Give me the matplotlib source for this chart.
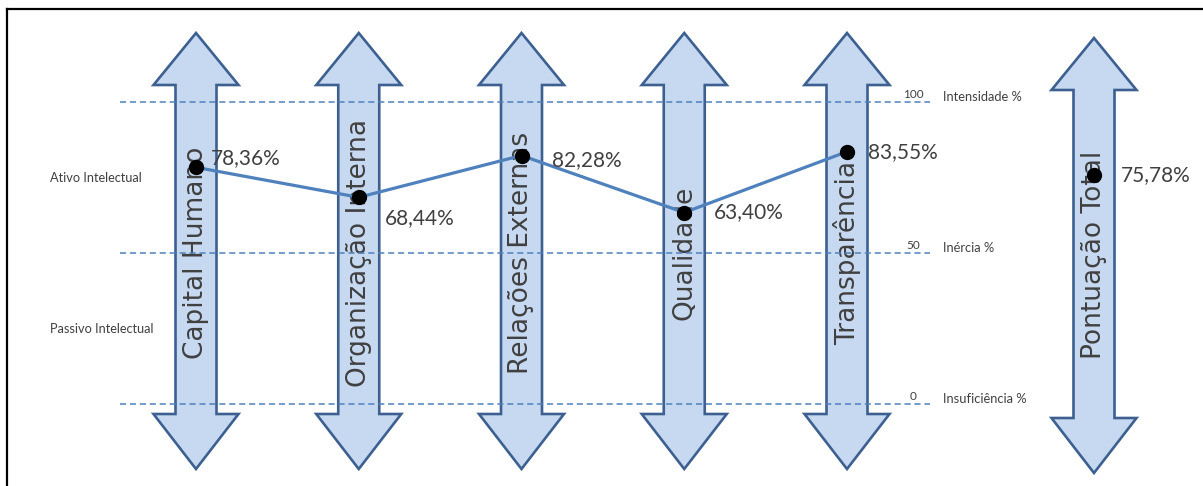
import matplotlib
matplotlib.use("Agg")
import matplotlib.pyplot as plt
from matplotlib.patches import Polygon
from matplotlib.lines import Line2D

# ---- data ----
categories = ["Capital Humano", "Organização Interna", "Relações Externas", "Qualidade", "Transparência"]
scores = [78.36, 68.44, 82.28, 63.40, 83.55]
total_name = "Pontuação Total"
total_score = 75.78
levels = [100, 50, 0]
level_names = ["Intensidade %", "Inércia %", "Insuficiência %"]
zones = ["Ativo Intelectual", "Passivo Intelectual"]
zone_levels = [75, 25]

# ---- layout helpers (pixel geometry of the figure) ----
W, H = 1203, 486
X0_PX, DX_PX = 196.0, 162.75      # category 0 centre, category spacing
Y0_PX, Y100_PX = 404.0, 102.0     # pixel rows of 0 % and 100 %
PX_PER_V = (Y0_PX - Y100_PX) / 100.0

def px2x(px):
    return (px - X0_PX) / DX_PX

def py2v(py):
    return (Y0_PX - py) / PX_PER_V

def fmt(v):
    return f"{v:.2f}".replace(".", ",") + "%"

fig = plt.figure(figsize=(W / 100, H / 100), dpi=100)
ax = fig.add_axes([0, 0, 1, 1])
ax.set_xlim(px2x(0), px2x(W))
ax.set_ylim(py2v(H), py2v(0))
ax.axis("off")

fill_c = "#C6D9F1"
edge_c = "#3D6090"
blue = "#4F81BD"
txt_c = "#404040"

shaft_hw = 20.5 / DX_PX
head_hw = 42.5 / DX_PX

def double_arrow(xc, top_tip, top_base, bot_base, bot_tip):
    pts = [
        (xc, top_tip),
        (xc + head_hw, top_base),
        (xc + shaft_hw, top_base),
        (xc + shaft_hw, bot_base),
        (xc + head_hw, bot_base),
        (xc, bot_tip),
        (xc - head_hw, bot_base),
        (xc - shaft_hw, bot_base),
        (xc - shaft_hw, top_base),
        (xc - head_hw, top_base),
    ]
    ax.add_patch(Polygon(pts, closed=True, facecolor=fill_c, edgecolor=edge_c,
                         linewidth=1.9, joinstyle="miter", zorder=1))

xs = list(range(len(categories)))
x_total = px2x(1094)

for x, name in zip(xs, categories):
    double_arrow(x, py2v(33), py2v(85), py2v(414), py2v(469))
    ax.text(x, 50, name, rotation=90, ha="center", va="center",
            fontsize=19, color=txt_c, family="DejaVu Sans", zorder=2)

double_arrow(x_total, py2v(38), py2v(90), py2v(418), py2v(473))
ax.text(x_total, 49.5, total_name, rotation=90, ha="center", va="center",
        fontsize=19, color=txt_c, family="DejaVu Sans", zorder=2)

# dashed reference lines with level labels
x_line0, x_line1 = px2x(120), px2x(930)
for lv, nm in zip(levels, level_names):
    ax.plot([x_line0, x_line1], [lv, lv], color=blue, lw=1.1,
            dashes=(4, 2.5), zorder=3)
    ax.text(px2x(913), lv + 0.8, str(lv), ha="center", va="bottom",
            fontsize=8.5, color=txt_c, family="Lato", zorder=3)
    ax.text(px2x(943), lv + 1.5, nm, ha="left", va="center",
            fontsize=9.3, color=txt_c, family="Lato", zorder=3)

# zone labels on the left
for lv, nm in zip(zone_levels, zones):
    ax.text(px2x(50), lv, nm, ha="left", va="center", fontsize=9.2,
            color=txt_c, family="Lato")

# connecting line and points
ax.plot(xs, scores, color=blue, lw=2.3, zorder=4, solid_capstyle="round")
ax.plot(xs, scores, "o", color="black", ms=10, zorder=5)
ax.plot([x_total], [total_score], "o", color="black", ms=10, zorder=5)

label_offsets = [(11, 7), (19, -15), (22, -3), (21, 0), (15, 0)]
for x, v, off in zip(xs, scores, label_offsets):
    ax.annotate(fmt(v), (x, v), xytext=off, textcoords="offset points",
                ha="left", va="center", fontsize=15, color=txt_c,
                family="Lato", zorder=6)
ax.annotate(fmt(total_score), (x_total, total_score), xytext=(19, 0),
            textcoords="offset points", ha="left", va="center",
            fontsize=15, color=txt_c, family="Lato", zorder=6)

# frame (top and left edges)
fig.add_artist(Line2D([7 / W, 1], [1 - 9 / H, 1 - 9 / H], transform=fig.transFigure,
                      color="black", lw=1.6))
fig.add_artist(Line2D([7 / W, 7 / W], [0, 1 - 9 / H], transform=fig.transFigure,
                      color="black", lw=1.6))

fig.savefig("out.png", dpi=100, facecolor="white")
